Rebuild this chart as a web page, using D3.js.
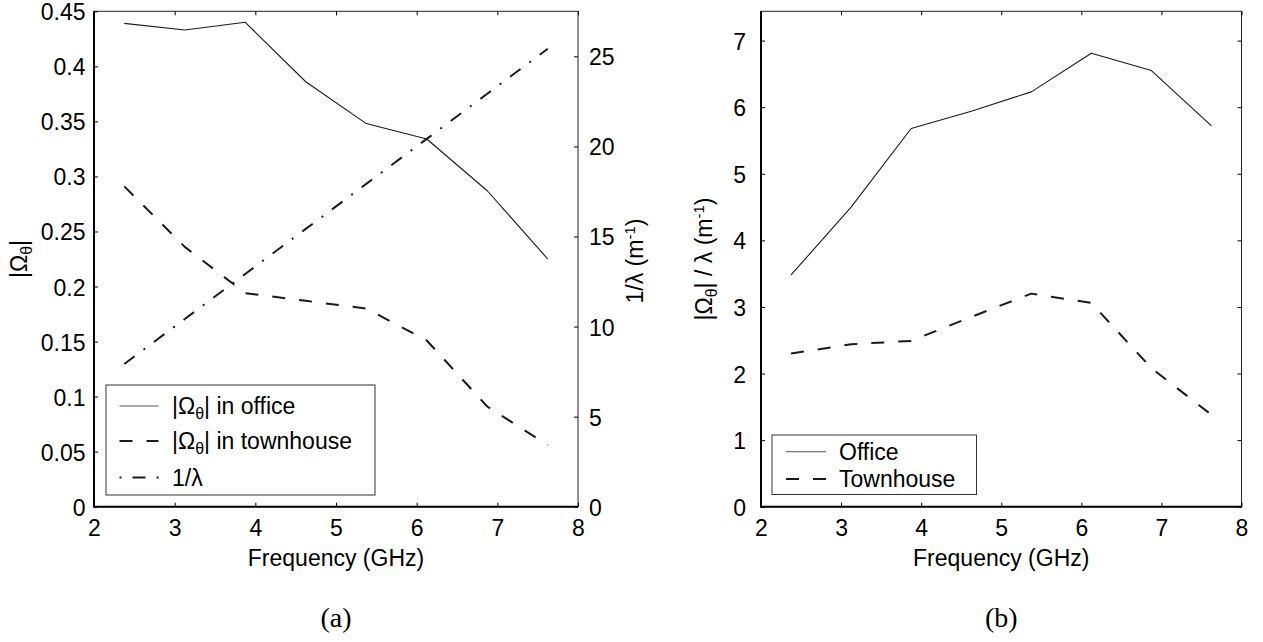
<!DOCTYPE html>
<html>
<head>
<meta charset="utf-8">
<script src="https://d3js.org/d3.v7.min.js"></script>
<style>
  body { margin: 0; background: #fff; }
  svg { display: block; }
  text { font-family: "Liberation Sans", Arial, Helvetica, sans-serif; }
  text.serif { font-family: "Liberation Serif", "Times New Roman", serif; }
</style>
</head>
<body>
<script>
// ---------------- data ----------------
const freq = [2.375, 3.125, 3.875, 4.625, 5.375, 6.125, 6.875, 7.625];
const officeOmega = [0.439, 0.433, 0.440, 0.386, 0.348, 0.334, 0.287, 0.225];
const townOmega   = [0.291, 0.236, 0.194, 0.187, 0.180, 0.151, 0.091, 0.056];
const invLambda   = [7.92, 10.42, 12.92, 15.42, 17.92, 20.42, 22.92, 25.42];
const officeRatio = [3.48, 4.50, 5.68, 5.94, 6.23, 6.81, 6.55, 5.72];
const townRatio   = [2.30, 2.44, 2.49, 2.85, 3.20, 3.06, 2.08, 1.38];

const xTicks      = [2, 3, 4, 5, 6, 7, 8];
const omegaTicks  = [0, 0.05, 0.1, 0.15, 0.2, 0.25, 0.3, 0.35, 0.4, 0.45];
const lambdaTicks = [0, 5, 10, 15, 20, 25];
const ratioTicks  = [0, 1, 2, 3, 4, 5, 6, 7];

const xDomain = [2, 8];
const omegaDomain = [0, 0.45];
const lambdaDomain = [0, 27.5];
const ratioDomain = [0, 7.44];

// ---------------- layout ----------------
const W = 1263, H = 642, FS = 23;
const TOP = 11.3, BOT = 506.7;
const A = { x0: 94, x1: 578 };
const B = { x0: 761, x1: 1241.5 };
const INK = "#1a1a1a";

const svg = d3.select("body").append("svg").attr("width", W).attr("height", H);

const xA = d3.scaleLinear().domain(xDomain).range([A.x0, A.x1]);
const yA = d3.scaleLinear().domain(omegaDomain).range([BOT, TOP]);
const yA2 = d3.scaleLinear().domain(lambdaDomain).range([BOT, TOP]);
const xB = d3.scaleLinear().domain(xDomain).range([B.x0, B.x1]);
const yB = d3.scaleLinear().domain(ratioDomain).range([BOT, TOP]);

function styleAxis(g) {
  g.attr("font-size", FS).attr("color", "#000");
  g.select(".domain").remove();
  g.selectAll(".tick line").attr("stroke", "#000").attr("stroke-width", 1);
}
function vAxisText(g) {
  g.selectAll(".tick text").attr("dy", "0.37em");
}

function frame(P) {
  svg.append("rect").attr("x", P.x0).attr("y", TOP).attr("width", P.x1 - P.x0).attr("height", BOT - TOP)
    .attr("fill", "none").attr("stroke", "#222").attr("stroke-width", 1);
}

function axesFrame(P, xs, yLeft, leftTicks, leftPad, yRight, rightTicks, rightPad, rightLabels) {
  frame(P);
  svg.append("g").attr("transform", `translate(0,${BOT})`)
    .call(d3.axisBottom(xs).tickValues(xTicks).tickSizeInner(-4).tickSizeOuter(0).tickPadding(13).tickFormat(d3.format("d")))
    .call(styleAxis);
  svg.append("g").attr("transform", `translate(0,${TOP})`)
    .call(d3.axisTop(xs).tickValues(xTicks).tickSizeInner(-4).tickSizeOuter(0).tickFormat(""))
    .call(styleAxis);
  svg.append("g").attr("transform", `translate(${P.x0},0)`)
    .call(d3.axisLeft(yLeft).tickValues(leftTicks).tickSizeInner(-4).tickSizeOuter(0).tickPadding(leftPad).tickFormat(d => String(d)))
    .call(styleAxis).call(vAxisText);
  svg.append("g").attr("transform", `translate(${P.x1},0)`)
    .call(d3.axisRight(yRight).tickValues(rightTicks).tickSizeInner(-4).tickSizeOuter(0).tickPadding(rightPad)
      .tickFormat(rightLabels ? (d => String(d)) : ""))
    .call(styleAxis).call(vAxisText);
  // thick left & bottom axis lines
  svg.append("line").attr("x1", P.x0).attr("x2", P.x1).attr("y1", BOT).attr("y2", BOT).attr("stroke", "#000").attr("stroke-width", 2);
  svg.append("line").attr("x1", P.x0).attr("x2", P.x0).attr("y1", TOP).attr("y2", BOT + 1).attr("stroke", "#000").attr("stroke-width", 2);
}

// styles
const SOLID = { w: 1.1, dash: null };
const DASH = { w: 2, dash: "13,14" };
const DASHDOT = { w: 2, dash: "13,11,2,11" };

function drawLine(xs, ys, vals, st) {
  const line = d3.line().x((d, i) => xs(freq[i])).y(d => ys(d));
  svg.append("path").datum(vals).attr("d", line)
    .attr("fill", "none").attr("stroke", INK).attr("stroke-width", st.w)
    .attr("stroke-dasharray", st.dash).attr("stroke-linejoin", "round");
}

// rich text helpers
function omegaSpans(t, after) {
  t.append("tspan").text("|Ω");
  t.append("tspan").text("θ").attr("font-size", 16).attr("dy", 5);
  t.append("tspan").text("|" + (after || "")).attr("dy", -5);
}
function invUnitSpans(t) {
  t.append("tspan").text(" (m");
  t.append("tspan").text("-1").attr("font-size", 15).attr("dy", -8);
  t.append("tspan").text(")").attr("dy", 8);
}

// ---------------- panel (a) ----------------
axesFrame(A, xA, yA, omegaTicks, 8.5, yA2, lambdaTicks, 11, true);
drawLine(xA, yA, officeOmega, SOLID);
drawLine(xA, yA, townOmega, DASH);
drawLine(xA, yA2, invLambda, DASHDOT);

// labels (a)
svg.append("text").attr("x", (A.x0 + A.x1) / 2).attr("y", 566).attr("text-anchor", "middle").attr("font-size", FS).text("Frequency (GHz)");
{
  const t = svg.append("text").attr("transform", "translate(27,259) rotate(-90)").attr("text-anchor", "middle").attr("font-size", FS);
  omegaSpans(t, "");
}
{
  const t = svg.append("text").attr("transform", "translate(643,261) rotate(-90)").attr("text-anchor", "middle").attr("font-size", FS);
  t.append("tspan").text("1/λ");
  invUnitSpans(t);
}
svg.append("text").attr("class", "serif").attr("x", (A.x0 + A.x1) / 2).attr("y", 627).attr("text-anchor", "middle")
  .attr("font-size", 28).text("(a)");

// legend
function legend(box, x1, x2, tx, rows) {
  svg.append("rect").attr("x", box.x).attr("y", box.y).attr("width", box.w).attr("height", box.h)
    .attr("fill", "#fff").attr("stroke", "#333").attr("stroke-width", 1);
  rows.forEach(r => {
    svg.append("line").attr("x1", x1).attr("x2", x2).attr("y1", r.y).attr("y2", r.y)
      .attr("stroke", r.st === SOLID ? "#555" : INK).attr("stroke-width", r.st.w)
      .attr("stroke-dasharray", r.st.dash).attr("stroke-dashoffset", r.offset || 0);
    const t = svg.append("text").attr("x", tx).attr("y", r.y + 8).attr("font-size", FS);
    r.label(t);
  });
}
legend({ x: 106, y: 385, w: 269, h: 110 }, 119.5, 158.5, 172, [
  { y: 406, st: SOLID, label: t => omegaSpans(t, " in office") },
  { y: 441, st: DASH, label: t => omegaSpans(t, " in townhouse") },
  { y: 477.5, st: DASHDOT, offset: 24, label: t => t.text("1/λ") }
]);

// ---------------- panel (b) ----------------
axesFrame(B, xB, yB, ratioTicks, 15, yB, ratioTicks, 10, false);
drawLine(xB, yB, officeRatio, SOLID);
drawLine(xB, yB, townRatio, DASH);

svg.append("text").attr("x", (B.x0 + B.x1) / 2).attr("y", 566).attr("text-anchor", "middle").attr("font-size", FS).text("Frequency (GHz)");
{
  const t = svg.append("text").attr("transform", "translate(712,259) rotate(-90)").attr("text-anchor", "middle").attr("font-size", FS);
  omegaSpans(t, " / λ");
  invUnitSpans(t);
}
svg.append("text").attr("class", "serif").attr("x", (B.x0 + B.x1) / 2).attr("y", 627).attr("text-anchor", "middle")
  .attr("font-size", 28).text("(b)");

legend({ x: 772, y: 435, w: 204.5, h: 59.5 }, 786, 826, 839, [
  { y: 451.7, st: SOLID, label: t => t.text("Office") },
  { y: 479, st: DASH, label: t => t.text("Townhouse") }
]);
</script>
</body>
</html>
